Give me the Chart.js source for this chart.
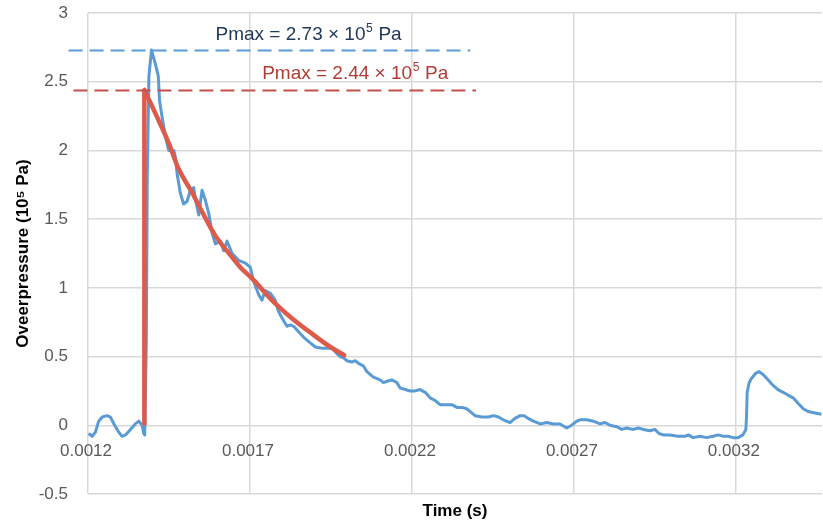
<!DOCTYPE html>
<html>
<head>
<meta charset="utf-8">
<script src="https://cdn.jsdelivr.net/npm/chart.js@4.4.1/dist/chart.umd.min.js"></script>
<style>
  html, body { margin: 0; padding: 0; background: #ffffff; }
  canvas { display: block; }
</style>
</head>
<body>
<canvas id="chart" width="823" height="527"></canvas>
<script>
// Measured overpressure trace (time in s, pressure in 10^5 Pa)
const blueTime = [
  0.001202, 0.001213, 0.001223, 0.001233, 0.001244, 0.001259, 0.001269, 0.001280,
  0.001295, 0.001305, 0.001316, 0.001331, 0.001346, 0.001357, 0.001367, 0.001372,
  0.001375, 0.001380, 0.001383, 0.001388, 0.001396, 0.001408, 0.001417, 0.001421,
  0.001429, 0.001439, 0.001449, 0.001465, 0.001470, 0.001475, 0.001485, 0.001495,
  0.001506, 0.001516, 0.001526, 0.001532, 0.001542, 0.001552, 0.001562, 0.001573,
  0.001583, 0.001593, 0.001609, 0.001619, 0.001629, 0.001645, 0.001665, 0.001686,
  0.001701, 0.001711, 0.001727, 0.001737, 0.001747, 0.001763, 0.001778, 0.001788,
  0.001799, 0.001814, 0.001825, 0.001835, 0.001850, 0.001866, 0.001886, 0.001902,
  0.001922, 0.001938, 0.001953, 0.001969, 0.001979, 0.001989, 0.001999, 0.002015,
  0.002025, 0.002035, 0.002051, 0.002061, 0.002081, 0.002102, 0.002112, 0.002123,
  0.002138, 0.002154, 0.002164, 0.002179, 0.002195, 0.002210, 0.002225, 0.002241,
  0.002256, 0.002272, 0.002287, 0.002308, 0.002323, 0.002339, 0.002354, 0.002369,
  0.002380, 0.002395, 0.002416, 0.002436, 0.002452, 0.002467, 0.002482, 0.002503,
  0.002518, 0.002534, 0.002546, 0.002559, 0.002575, 0.002596, 0.002616, 0.002637,
  0.002657, 0.002678, 0.002693, 0.002709, 0.002719, 0.002740, 0.002760, 0.002781,
  0.002796, 0.002811, 0.002832, 0.002848, 0.002863, 0.002883, 0.002899, 0.002914,
  0.002935, 0.002950, 0.002963, 0.002976, 0.002996, 0.003022, 0.003043, 0.003053,
  0.003068, 0.003089, 0.003110, 0.003130, 0.003145, 0.003161, 0.003176, 0.003192,
  0.003207, 0.003222, 0.003231, 0.003233, 0.003235, 0.003241, 0.003248, 0.003262,
  0.003272, 0.003284, 0.003300, 0.003315, 0.003330, 0.003346, 0.003361, 0.003377,
  0.003392, 0.003408, 0.003423, 0.003444, 0.003464
];
const bluePressure = [
  -0.06, -0.08, -0.05, 0.03, 0.06, 0.07, 0.06, 0.01,
  -0.05, -0.08, -0.07, -0.03, 0.01, 0.03, 0.00, -0.06,
  -0.07, 0.60, 1.81, 2.54, 2.73, 2.63, 2.54, 2.36,
  2.24, 2.10, 2.00, 2.00, 1.95, 1.83, 1.69, 1.61,
  1.63, 1.71, 1.73, 1.64, 1.53, 1.71, 1.64, 1.54,
  1.40, 1.32, 1.34, 1.27, 1.34, 1.25, 1.20, 1.18,
  1.15, 1.05, 0.95, 0.91, 0.98, 0.96, 0.91, 0.83,
  0.78, 0.72, 0.73, 0.72, 0.68, 0.64, 0.60, 0.57,
  0.56, 0.56, 0.56, 0.52, 0.50, 0.49, 0.47, 0.46,
  0.47, 0.45, 0.43, 0.39, 0.35, 0.33, 0.31, 0.32,
  0.33, 0.31, 0.27, 0.26, 0.25, 0.25, 0.26, 0.24,
  0.20, 0.18, 0.15, 0.15, 0.15, 0.13, 0.13, 0.12,
  0.10, 0.07, 0.06, 0.06, 0.07, 0.06, 0.04, 0.02,
  0.05, 0.07, 0.07, 0.05, 0.03, 0.01, 0.02, 0.01,
  0.01, -0.02, 0.00, 0.03, 0.04, 0.04, 0.03, 0.01,
  0.02, 0.00, -0.01, -0.03, -0.02, -0.03, -0.02, -0.03,
  -0.04, -0.03, -0.06, -0.07, -0.07, -0.08, -0.08, -0.07,
  -0.09, -0.08, -0.09, -0.08, -0.07, -0.08, -0.08, -0.09,
  -0.09, -0.07, -0.03, 0.07, 0.24, 0.31, 0.34, 0.38,
  0.39, 0.37, 0.33, 0.29, 0.26, 0.24, 0.22, 0.20,
  0.16, 0.12, 0.10, 0.09, 0.08
];

// Fitted decay (sharp rise to the peak, then a smooth decay)
const fitTime = [
  0.001374, 0.001374, 0.001408, 0.001448, 0.001479, 0.001522, 0.001553,
  0.001593, 0.001639, 0.001670, 0.001710, 0.001772, 0.001834, 0.001895,
  0.001948, 0.001991
];
const fitPressure = [
  0.00, 2.44, 2.27, 2.06, 1.87, 1.69, 1.55,
  1.38, 1.24, 1.15, 1.06, 0.90, 0.77, 0.66,
  0.57, 0.51
];

// Axis ticks
const xTickValues = [0.0012, 0.0017, 0.0022, 0.0027, 0.0032];
const xTickLabels = ['0.0012', '0.0017', '0.0022', '0.0027', '0.0032'];

// Peak pressure annotations
const peakValues = [2.73, 2.44];
const peakTexts = ['Pmax = 2.73 × 10', 'Pmax = 2.44 × 10'];

const BLUE = '#5B9BD5';
const RED = '#DD5B4B';
const FONT = '"Liberation Sans", Arial, sans-serif';

// Where each annotation sits (data units)
const peakStyle = [
  { from: 0.001140, to: 0.002380, textX: 0.001881, textY: 2.80, line: '#5B9BD5', text: '#213A5C' },
  { from: 0.001155, to: 0.002398, textX: 0.002025, textY: 2.52, line: '#C4504A', text: '#B13C35' }
];

const pts = (xs, ys) => xs.map((t, i) => ({ x: t, y: ys[i] }));

// x tick labels sit just under the zero line
const zeroAxisLabels = {
  id: 'zeroAxisLabels',
  beforeDatasetsDraw(chart) {
    const { ctx, scales: { x, y } } = chart;
    const yPos = y.getPixelForValue(0) + 26;
    ctx.save();
    ctx.font = '17px ' + FONT;
    ctx.fillStyle = '#595959';
    ctx.textAlign = 'center';
    ctx.textBaseline = 'middle';
    xTickValues.forEach((v, i) => ctx.fillText(xTickLabels[i], x.getPixelForValue(v) - 2, yPos));
    ctx.restore();
  }
};

// Dashed Pmax lines with their labels (superscript exponent)
const peakLines = {
  id: 'peakLines',
  afterDatasetsDraw(chart) {
    const { ctx, scales: { x, y } } = chart;
    ctx.save();
    peakValues.forEach((p, i) => {
      const s = peakStyle[i];
      const py = Math.round(y.getPixelForValue(p)) + 0.5;
      ctx.setLineDash([14, 7]);
      ctx.lineWidth = 2;
      ctx.strokeStyle = s.line;
      ctx.beginPath();
      ctx.moveTo(x.getPixelForValue(s.from), py);
      ctx.lineTo(x.getPixelForValue(s.to), py);
      ctx.stroke();
      ctx.setLineDash([]);

      const main = '19px ' + FONT;
      const sup = '12px ' + FONT;
      ctx.font = main;
      const w1 = ctx.measureText(peakTexts[i]).width;
      const w3 = ctx.measureText(' Pa').width;
      ctx.font = sup;
      const w2 = ctx.measureText('5').width + 1;
      const total = w1 + w2 + w3;
      let tx = x.getPixelForValue(s.textX) - total / 2;
      const ty = y.getPixelForValue(s.textY);
      ctx.fillStyle = s.text;
      ctx.textAlign = 'left';
      ctx.textBaseline = 'alphabetic';
      ctx.font = main;
      ctx.fillText(peakTexts[i], tx, ty);
      tx += w1;
      ctx.font = sup;
      ctx.fillText('5', tx + 0.5, ty - 8);
      tx += w2;
      ctx.font = main;
      ctx.fillText(' Pa', tx, ty);
    });
    ctx.restore();
  }
};

const whiteBg = {
  id: 'whiteBg',
  beforeDraw(chart) {
    const { ctx, width, height } = chart;
    ctx.save();
    ctx.fillStyle = '#ffffff';
    ctx.fillRect(0, 0, width, height);
    ctx.restore();
  }
};

new Chart(document.getElementById('chart'), {
  type: 'line',
  data: {
    datasets: [
      {
        data: pts(fitTime.slice(0, 2), fitPressure.slice(0, 2)),
        borderColor: RED, borderWidth: 4.5, pointRadius: 0, tension: 0,
        borderCapStyle: 'butt', order: 0
      },
      {
        data: pts(fitTime.slice(1), fitPressure.slice(1)),
        borderColor: RED, borderWidth: 4.5, pointRadius: 0, tension: 0.4,
        cubicInterpolationMode: 'monotone', borderCapStyle: 'round', order: 1
      },
      {
        data: pts(blueTime, bluePressure),
        borderColor: BLUE, borderWidth: 3, pointRadius: 0, tension: 0,
        borderJoinStyle: 'round', order: 2
      }
    ]
  },
  options: {
    responsive: false,
    animation: false,
    devicePixelRatio: 1,
    layout: { padding: { top: 13, right: 1, left: 0, bottom: 0 } },
    plugins: { legend: { display: false }, tooltip: { enabled: false } },
    scales: {
      x: {
        type: 'linear',
        min: 0.0012,
        max: 0.003466,
        afterBuildTicks(scale) { scale.ticks = xTickValues.map(v => ({ value: v })); },
        afterFit(scale) {
          scale.height = 33;
          scale.paddingLeft = 0; scale.paddingRight = 0;
        },
        ticks: { display: false },
        grid: { color: '#D9D9D9', lineWidth: 1.5, drawTicks: false },
        border: { display: false },
        title: {
          display: true, text: 'Time (s)', color: '#000000',
          font: { family: FONT, size: 17, weight: 'bold' },
          padding: { top: 0, bottom: 5 }
        }
      },
      y: {
        min: -0.5,
        max: 3,
        afterFit(scale) {
          scale.width = 88;
          scale.paddingTop = 0; scale.paddingBottom = 0;
        },
        ticks: {
          stepSize: 0.5, padding: 20, color: '#595959',
          font: { family: FONT, size: 17 },
          callback: v => String(v)
        },
        grid: { color: '#D9D9D9', lineWidth: 1.5, drawTicks: false },
        border: { display: false },
        title: {
          display: true, text: 'Oveerpressure (10⁵ Pa)', color: '#000000',
          font: { family: FONT, size: 17, weight: 'bold' },
          padding: { top: 13, bottom: 0 }
        }
      }
    }
  },
  plugins: [whiteBg, zeroAxisLabels, peakLines]
});
</script>
</body>
</html>
